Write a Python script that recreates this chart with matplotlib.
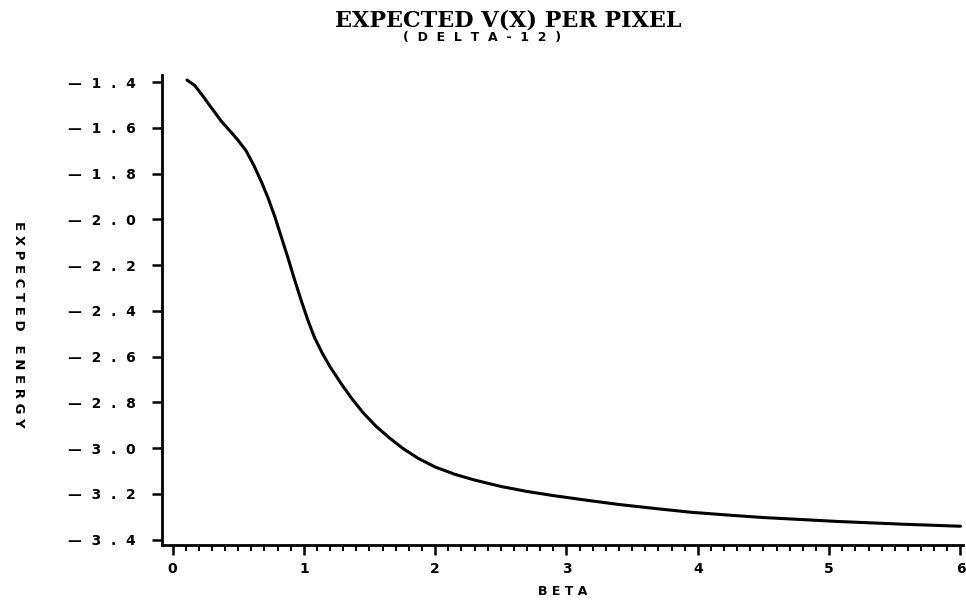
import matplotlib
matplotlib.use("Agg")
import matplotlib.pyplot as plt
from matplotlib.ticker import FixedLocator, MultipleLocator

# Data
beta = [0.11, 0.17, 0.23, 0.30, 0.37, 0.44, 0.50, 0.56, 0.62, 0.68, 0.73,
        0.78, 0.83, 0.88, 0.93, 0.98, 1.03, 1.08, 1.14, 1.20, 1.28, 1.36,
        1.45, 1.55, 1.65, 1.75, 1.87, 2.0, 2.15, 2.3, 2.5, 2.7, 2.9, 3.15,
        3.4, 3.7, 3.95, 4.25, 4.5, 4.8, 5.06, 5.35, 5.6, 5.8, 6.0]
energy = [-1.391, -1.415, -1.46, -1.515, -1.57, -1.615, -1.655, -1.70,
          -1.765, -1.84, -1.91, -1.99, -2.08, -2.17, -2.265, -2.355, -2.44,
          -2.515, -2.585, -2.645, -2.715, -2.78, -2.845, -2.905, -2.955,
          -3.0, -3.045, -3.083, -3.115, -3.14, -3.168, -3.19, -3.208, -3.228,
          -3.247, -3.266, -3.281, -3.294, -3.304, -3.313, -3.321, -3.328,
          -3.334, -3.338, -3.342]

yticks = [-1.4, -1.6, -1.8, -2.0, -2.2, -2.4, -2.6, -2.8, -3.0, -3.2, -3.4]
ytick_labels = ["-1.4", "-1.6", "-1.8", "-2.0", "-2.2", "-2.4", "-2.6",
                "-2.8", "-3.0", "-3.2", "-3.4"]
xticks = [0, 1, 2, 3, 4, 5, 6]
xtick_labels = ["0", "1", "2", "3", "4", "5", "6"]

title = "EXPECTED V(X) PER PIXEL"
subtitle = "(DELTA-12)"
xlabel = "BETA"
ylabel = "EXPECTED ENERGY"


def spaced(s, sep=" "):
    return sep.join(list(s))


fig = plt.figure(figsize=(9.66, 6.02), dpi=100)
ax = fig.add_axes([0.1677, 0.0947, 0.8293, 0.7807])

ax.plot(beta, energy, color="black", linewidth=2.2, solid_joinstyle="round",
        solid_capstyle="round")

ax.set_xlim(-0.08, 6.02)
ax.set_ylim(-3.424, -1.369)

for s in ["top", "right"]:
    ax.spines[s].set_visible(False)
for s in ["left", "bottom"]:
    ax.spines[s].set_linewidth(2.0)

ax.yaxis.set_major_locator(FixedLocator(yticks))
ax.set_yticklabels([spaced(t.replace("-", "—"), "  ") for t in ytick_labels],
                   fontsize=10, fontweight="bold", family="DejaVu Sans")
ax.xaxis.set_major_locator(FixedLocator(xticks))
ax.set_xticklabels(xtick_labels, fontsize=10, fontweight="bold",
                   family="DejaVu Sans")
ax.xaxis.set_minor_locator(MultipleLocator(0.1))

ax.tick_params(axis="y", direction="out", length=7, width=1.8, pad=12)
ax.tick_params(axis="x", which="major", direction="out", length=7, width=1.8, pad=5)
ax.tick_params(axis="x", which="minor", direction="out", length=4.5, width=1.4)

ax.set_xlabel(spaced(xlabel), fontsize=9, fontweight="bold", labelpad=7)
ax.set_ylabel(spaced(ylabel), fontsize=9.5, fontweight="bold", rotation=270,
              va="center", ha="center")
ax.yaxis.set_label_coords(-0.179, 0.47)

fig.text(0.526, 0.966, title, ha="center", va="center", fontsize=16,
         fontweight="bold", family="DejaVu Serif")
fig.text(0.499, 0.937, spaced(subtitle, "  "), ha="center", va="center",
         fontsize=9, fontweight="bold", family="DejaVu Sans")

fig.savefig("out.png", dpi=100, facecolor="white")
